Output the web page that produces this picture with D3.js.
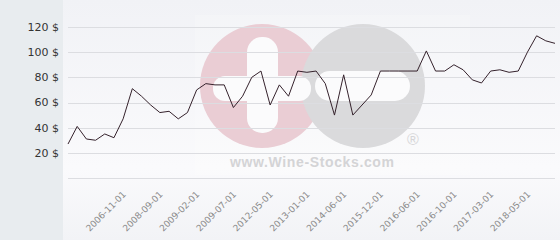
<!DOCTYPE html>
<html><head><meta charset="utf-8">
<script src="https://cdn.jsdelivr.net/npm/d3@7"></script>
<style>html,body{margin:0;padding:0;background:#fff;}svg{display:block;}</style>
</head><body>
<svg id="c" width="560" height="240"></svg>
<script>
const values = [27,41,31,30,35,32,47,71,65,58,52,53,47,52,70,75,74,74,56,65,80,85,58,74,
  65,85,84,85,75,50,82,50,58,66,85,85,85,85,85,101,85,85,90,86,78,75.5,85,86,84,85,100,113,109,107];
const tickIndex = [6,10,14,18,22,26,30,34,38,42,46,50];
const tickLabels = ["2006-11-01","2008-09-01","2009-02-01","2009-07-01","2012-05-01","2013-01-01",
  "2014-06-01","2015-12-01","2016-06-01","2016-10-01","2017-03-01","2018-05-01"];
const yTicks = [0,20,40,60,80,100,120];

const svg = d3.select("#c");
const defs = svg.append("defs");
const g1 = defs.append("linearGradient").attr("id","bg").attr("x1",0).attr("y1",0).attr("x2",0).attr("y2",1);
g1.append("stop").attr("offset","0%").attr("stop-color","#f1f2f6");
g1.append("stop").attr("offset","70%").attr("stop-color","#fafafc");
g1.append("stop").attr("offset","100%").attr("stop-color","#f2f3f6");

svg.append("rect").attr("x",0).attr("y",0).attr("width",63).attr("height",240).attr("fill","#e8ecef");
svg.append("rect").attr("x",63).attr("y",0).attr("width",497).attr("height",240).attr("fill","url(#bg)");

// watermark
const wm = svg.append("g");
wm.append("rect").attr("x",195).attr("y",15).attr("width",275).attr("height",160).attr("fill","#ffffff").attr("opacity",0.2);
wm.append("circle").attr("cx",262).attr("cy",86).attr("r",62).attr("fill","#eacdd4");
wm.append("circle").attr("cx",363).attr("cy",86).attr("r",62).attr("fill","#dadadc");
wm.append("rect").attr("x",247).attr("y",37).attr("width",31).attr("height",96).attr("rx",15).attr("fill","#fbfbfc");
wm.append("rect").attr("x",213).attr("y",76).attr("width",98).attr("height",25).attr("rx",12).attr("fill","#fbfbfc");
wm.append("rect").attr("x",315).attr("y",71).attr("width",95).attr("height",30).attr("rx",15).attr("fill","#fbfbfc");
wm.append("text").attr("x",413).attr("y",145).attr("text-anchor","middle")
  .attr("font-family","Liberation Sans, Arial, sans-serif").attr("font-size",16).attr("fill","#d6d6d8").text("®");
wm.append("text").attr("x",230).attr("y",167).attr("textLength",164)
  .attr("font-family","Liberation Sans, Arial, sans-serif").attr("font-weight","bold").attr("font-size",14)
  .attr("fill","#d4d4d6").text("www.Wine-Stocks.com");

const x = d3.scalePoint().domain(d3.range(values.length)).range([68,555]);
const y = d3.scaleLinear().domain([0,120]).range([178,27]);

// grid
svg.append("g").selectAll("line").data(yTicks).join("line")
  .attr("x1",68).attr("x2",555).attr("y1",d=>Math.round(y(d))+0.5).attr("y2",d=>Math.round(y(d))+0.5)
  .attr("stroke","#dcdde1").attr("stroke-width",1);

// y labels
svg.append("g").selectAll("text").data(yTicks.filter(d=>d>0)).join("text")
  .attr("x",59).attr("y",d=>y(d)).attr("dy","0.35em").attr("text-anchor","end")
  .attr("font-family","DejaVu Sans, sans-serif").attr("font-size",11).attr("fill","#333")
  .text(d=>d+" $");

// x axis
const xa = svg.append("g").attr("transform","translate(0,178)")
  .call(d3.axisBottom(x).tickValues(tickIndex).tickSize(0).tickFormat((d,i)=>tickLabels[i]));
xa.select(".domain").remove();
xa.selectAll("text").attr("x",0).attr("y",0).attr("dy",0)
  .attr("transform","translate(3,17) rotate(-45)").attr("text-anchor","end")
  .attr("font-family","DejaVu Sans, sans-serif").attr("font-size",9).attr("fill","#8a8a8a");

// line
svg.append("path").datum(values)
  .attr("d", d3.line().x((d,i)=>x(i)).y(d=>y(d)))
  .attr("fill","none").attr("stroke","#35222c").attr("stroke-width",1);
</script>
</body></html>
